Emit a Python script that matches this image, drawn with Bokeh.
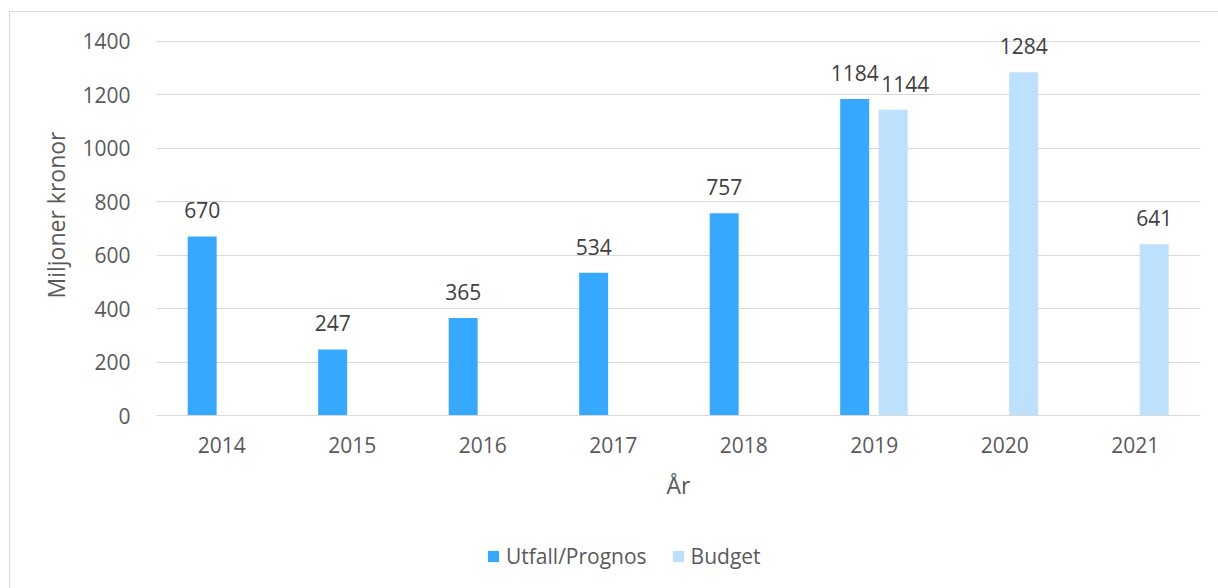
from bokeh.plotting import figure
from bokeh.layouts import column
from bokeh.models import ColumnDataSource, FactorRange, Range1d, LabelSet, Legend, LegendItem, SingleIntervalTicker
from bokeh.core.properties import value
from bokeh.transform import dodge
from bokeh.embed import file_html
from bokeh.resources import INLINE

years = ["2014", "2015", "2016", "2017", "2018", "2019", "2020", "2021"]
utfall = [670, 247, 365, 534, 757, 1184, None, None]
budget = [None, None, None, None, None, 1144, 1284, 641]
series_names = ["Utfall/Prognos", "Budget"]

FONT = "Open Sans"
C_UTF = "#36A9FF"
C_BUD = "#BDE0FD"
TXT = "#595959"
LBL = "#404040"
GRID = "#D9D9D9"
FS = "21px"

# y range reaches a little above the top gridline so the top labels are not clipped
p = figure(x_range=FactorRange(*years), y_range=Range1d(0, 1500),
           width=1209, height=516, output_backend="svg", toolbar_location=None,
           min_border_left=146, min_border_right=19, min_border_top=2, min_border_bottom=113)
p.outline_line_color = None
p.background_fill_color = "white"

src_u = ColumnDataSource(dict(year=[y for y, v in zip(years, utfall) if v is not None],
                              val=[v for v in utfall if v is not None]))
src_b = ColumnDataSource(dict(year=[y for y, v in zip(years, budget) if v is not None],
                              val=[v for v in budget if v is not None]))

off_u, off_b, w = -0.15, 0.145, 0.222
r1 = p.vbar(x=dodge("year", off_u, range=p.x_range), top="val", width=w, source=src_u,
            fill_color=C_UTF, line_color=None)
r2 = p.vbar(x=dodge("year", off_b, range=p.x_range), top="val", width=w, source=src_b,
            fill_color=C_BUD, line_color=None)

# label nudges (styling): avoid overlap in 2019
src_u.data["dx"] = [0 for y in src_u.data["year"]]
src_b.data["dx"] = [(12 if y == "2019" else 0) for y in src_b.data["year"]]

for src, off in ((src_u, off_u), (src_b, off_b)):
    src.data["txt"] = [str(v) for v in src.data["val"]]
    ls = LabelSet(x=dodge("year", off, range=p.x_range), y="val", text="txt", source=src,
                  x_offset="dx", y_offset=18, text_align="center", text_baseline="bottom",
                  text_font=value(FONT), text_font_size=FS, text_color=LBL)
    p.add_layout(ls)

p.yaxis.ticker = SingleIntervalTicker(interval=200)
p.ygrid.grid_line_color = GRID
p.xgrid.grid_line_color = None
p.yaxis.axis_line_color = None
p.yaxis.major_tick_line_color = None
p.yaxis.minor_tick_line_color = None
p.xaxis.axis_line_color = GRID
p.xaxis.major_tick_line_color = None
p.xaxis.minor_tick_line_color = None
p.xaxis.major_label_standoff = 15
p.yaxis.major_label_standoff = 20

for ax in (p.xaxis, p.yaxis):
    ax.major_label_text_font = FONT
    ax.major_label_text_font_size = FS
    ax.major_label_text_color = TXT
    ax.axis_label_text_font = FONT
    ax.axis_label_text_font_size = "23px"
    ax.axis_label_text_color = TXT
    ax.axis_label_text_font_style = "normal"

p.xaxis.axis_label = "År"
p.yaxis.axis_label = "Miljoner kronor"
p.xaxis.axis_label_standoff = 13
p.yaxis.axis_label_standoff = 7

# legend strip below the chart
q = figure(x_range=FactorRange(*years), y_range=Range1d(100000, 100001),
           width=1209, height=60, output_backend="svg", toolbar_location=None,
           x_axis_type=None, y_axis_type=None, min_border=0)
q.outline_line_color = None
q.xgrid.grid_line_color = None
q.ygrid.grid_line_color = None
l1 = q.vbar(x="year", top="val", width=w, source=src_u, fill_color=C_UTF, line_color=None)
l2 = q.vbar(x="year", top="val", width=w, source=src_b, fill_color=C_BUD, line_color=None)
legend = Legend(items=[LegendItem(label=series_names[0], renderers=[l1]),
                       LegendItem(label=series_names[1], renderers=[l2])],
                orientation="horizontal", location=(330, 18),
                label_text_font=FONT, label_text_font_size=FS, label_text_color=TXT,
                glyph_width=14, glyph_height=14, spacing=24, label_standoff=6,
                border_line_color=None, background_fill_alpha=0, margin=0, padding=0)
q.add_layout(legend, "center")

layout = column(p, q, spacing=0)
layout.styles = {"margin-left": "9px", "margin-top": "11px",
                 "border-left": "1px solid #D9D9D9", "border-top": "1px solid #D9D9D9"}

open("out.html", "w").write(file_html(layout, INLINE))
